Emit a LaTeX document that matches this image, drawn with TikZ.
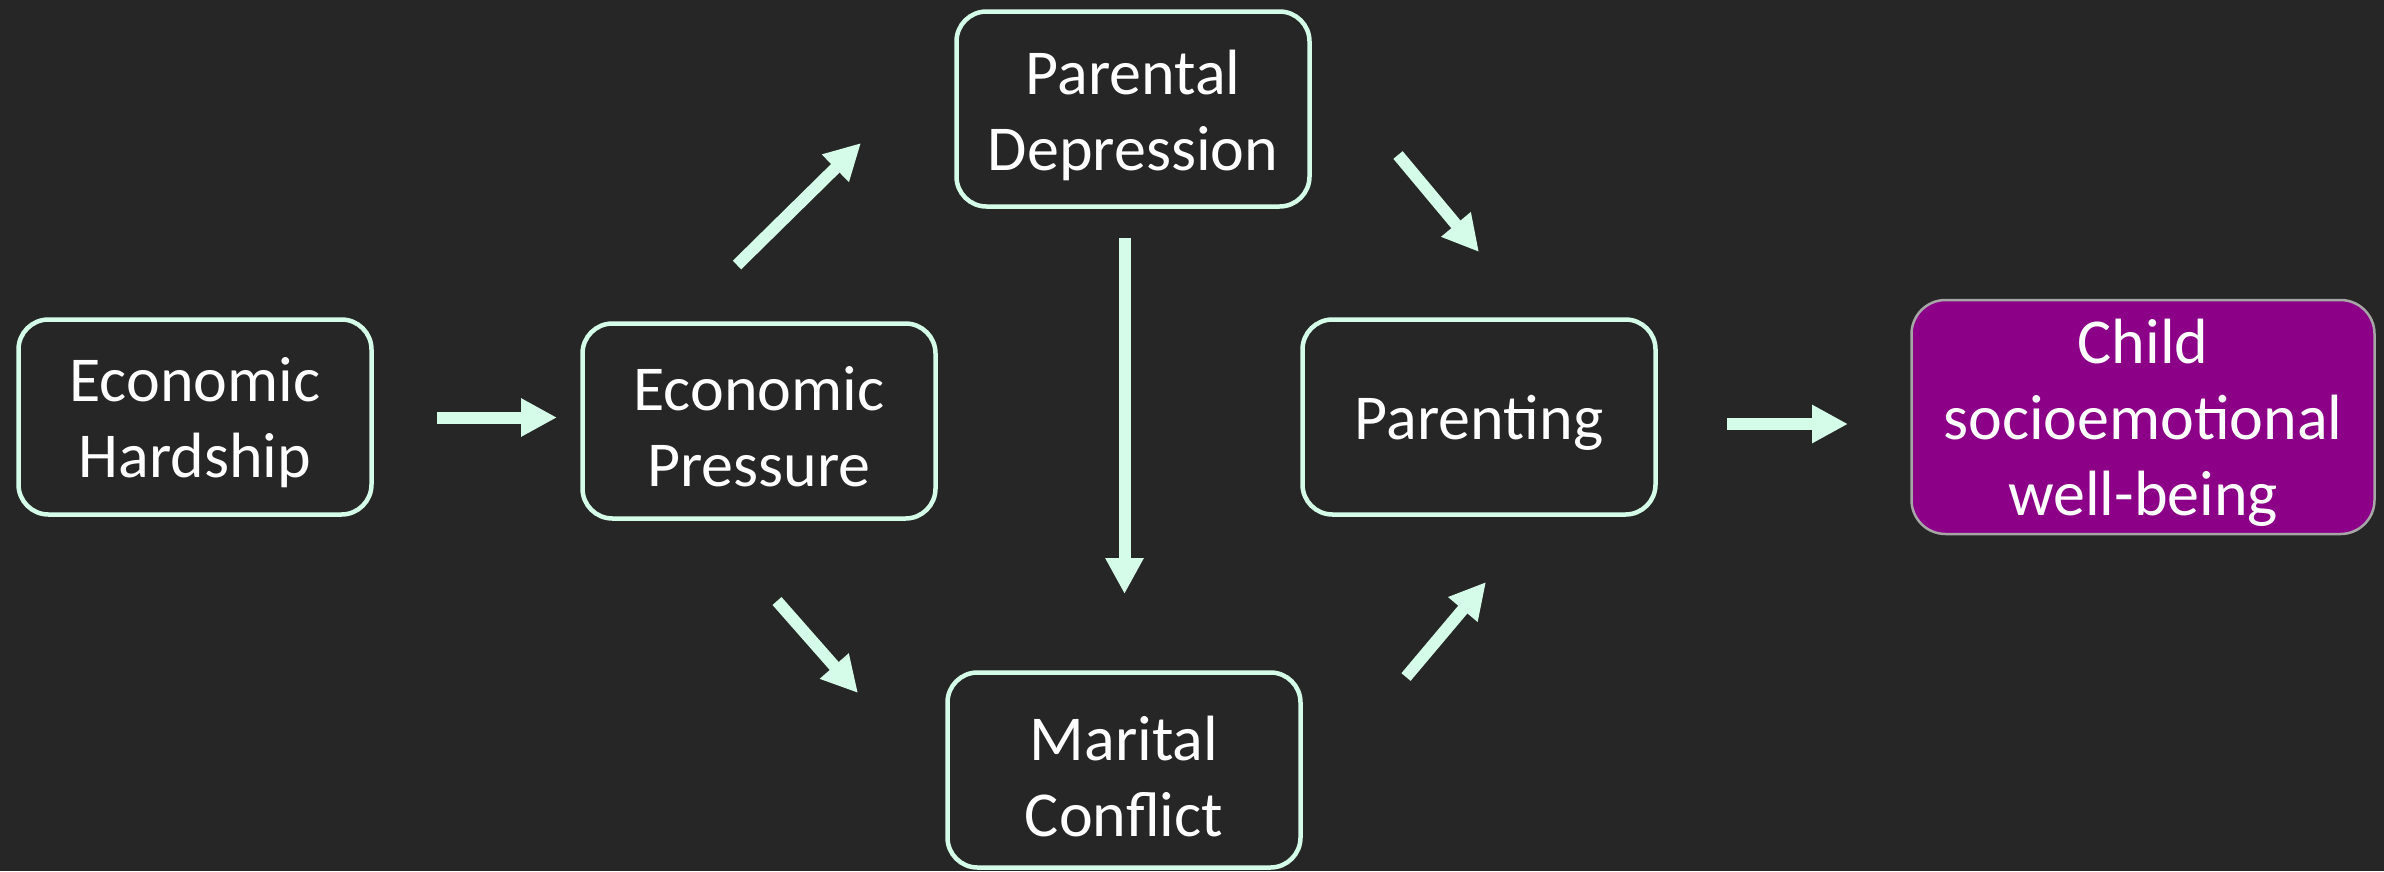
\documentclass[tikz,border=0pt]{standalone}
\usepackage{fontspec}
\setmainfont{Carlito}
\usetikzlibrary{arrows.meta}
\definecolor{bg}{HTML}{262626}
\definecolor{mint}{HTML}{D5FCE8}
\definecolor{purp}{HTML}{8B0087}
\definecolor{gborder}{HTML}{A6A6A6}
\begin{document}
\begin{tikzpicture}[x=1pt,y=-1pt,
  txt/.style={align=center, text=white, font=\fontsize{64}{76}\selectfont, inner sep=0pt, yshift=-6pt},
  box/.style={draw=mint, line width=4.5pt, rounded corners=30pt, minimum width=353pt, minimum height=195pt, inner sep=0pt},
  outbox/.style={draw=gborder, fill=purp, line width=2.5pt, rounded corners=34pt, minimum width=463pt, minimum height=234pt, inner sep=0pt},
  arr/.style={draw=mint, line width=12pt, -{Triangle[length=36pt,width=36pt,fill=mint]}}]
\useasboundingbox (0,0) rectangle (2384,871);
\fill[bg] (0,0) rectangle (2384,871);
\node[box, label={[txt]center:{Economic\\Hardship}}] (eh) at (195,417) {};
\node[box, label={[txt]center:{Economic\\Pressure}}] (ep) at (759,421) {};
\node[box, label={[txt]center:{Parental\\Depression}}] (pd) at (1133,109) {};
\node[box, label={[txt]center:{Marital\\Conflict}}] (mc) at (1124,770) {};
\node[box, label={[txt]center:{Parenting}}] (pa) at (1479,417) {};
\node[outbox, label={[txt]center:{Child\\socioemotional\\well-being}}] (ch) at (2143,417) {};
\coordinate (a1s) at (437,417.5); \coordinate (a1e) at (557,417.5);
\coordinate (a2s) at (737,265); \coordinate (a2e) at (861,143);
\coordinate (a3s) at (777,601); \coordinate (a3e) at (858,693);
\coordinate (a4s) at (1124.5,238); \coordinate (a4e) at (1124.5,594);
\coordinate (a5s) at (1398,155); \coordinate (a5e) at (1479,252);
\coordinate (a6s) at (1406,677); \coordinate (a6e) at (1486,582);
\coordinate (a7s) at (1727,424); \coordinate (a7e) at (1848,424);
\draw[arr] (a1s) -- (a1e);
\draw[arr] (a2s) -- (a2e);
\draw[arr] (a3s) -- (a3e);
\draw[arr] (a4s) -- (a4e);
\draw[arr] (a5s) -- (a5e);
\draw[arr] (a6s) -- (a6e);
\draw[arr] (a7s) -- (a7e);
\end{tikzpicture}
\end{document}
